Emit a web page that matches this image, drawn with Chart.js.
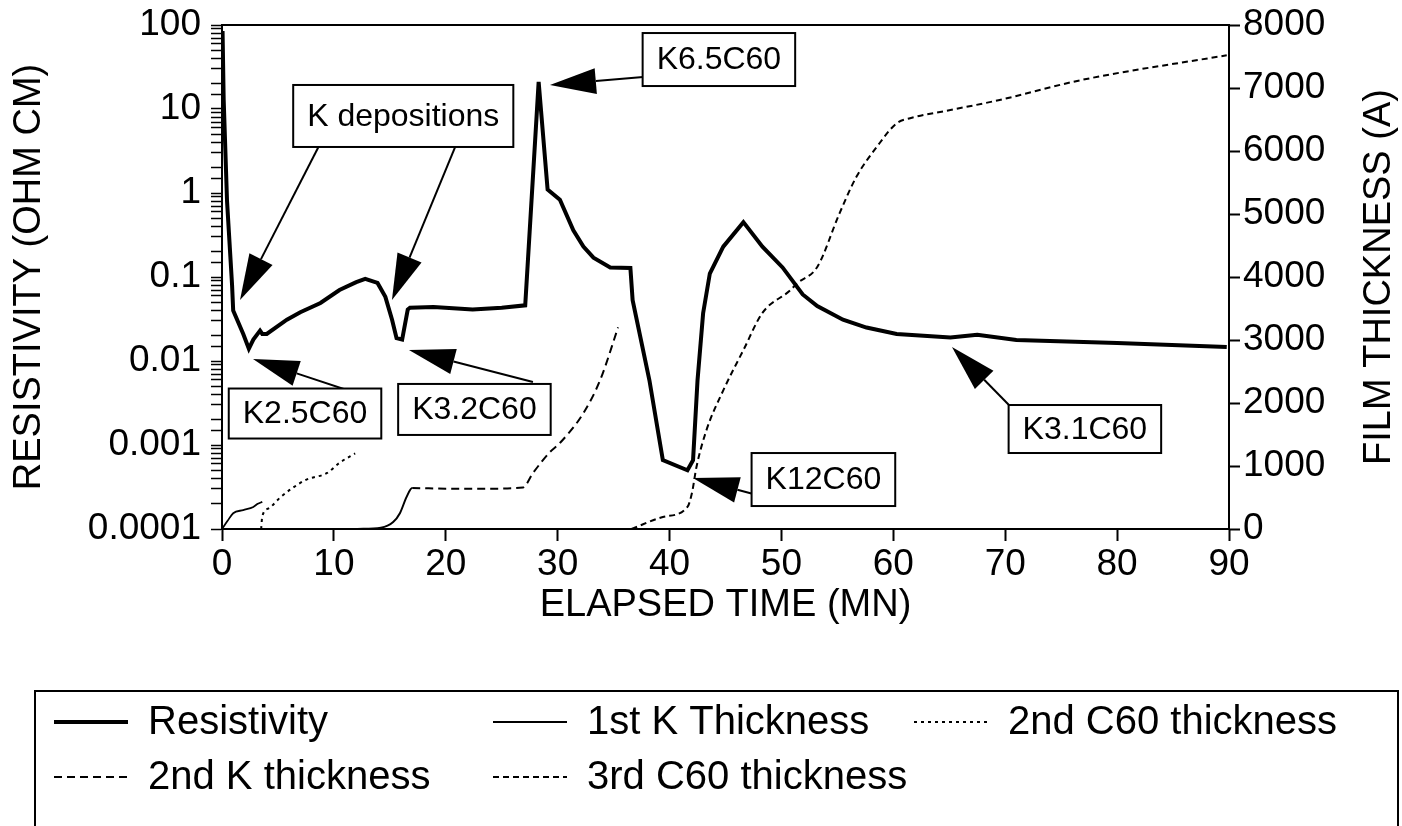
<!DOCTYPE html>
<html>
<head>
<meta charset="utf-8">
<script src="https://cdn.jsdelivr.net/npm/chart.js@4.4.0/dist/chart.umd.min.js"></script>
<style>
  html, body { margin: 0; padding: 0; background: #fff; }
  #wrap { width: 1402px; height: 826px; }
</style>
</head>
<body>
<div id="wrap"><canvas id="filmChart" width="1402" height="826"></canvas></div>
<script>
// resistivity (ohm cm), left log axis
const resTime = [0.05, 0.15, 0.45, 0.9, 1.0, 1.9, 2.4, 2.8, 3.4, 3.6, 4.0, 5.8, 7.0, 8.8, 10.5, 12.0, 12.8, 13.9, 14.6, 15.2, 15.6, 16.1, 16.6, 16.8, 18.9, 22.4, 25.0, 27.1,
  28.3, 29.1, 30.2, 31.4, 32.3, 33.2, 34.7, 36.5, 36.7, 38.2, 39.4, 41.6, 42.1, 42.5, 43.0, 43.6, 44.8, 46.6, 48.3, 50.1, 51.9, 53.2, 55.5, 57.6, 60.3, 65.1, 67.5, 71.0, 80.0, 89.8];
const resValue = [85, 13, 0.8, 0.08, 0.04, 0.021, 0.014, 0.018, 0.023, 0.021, 0.021, 0.031, 0.038, 0.049, 0.07, 0.087, 0.095, 0.085, 0.058, 0.031, 0.0187, 0.018, 0.041, 0.043, 0.044, 0.041, 0.043, 0.046,
  21, 1.1, 0.83, 0.36, 0.23, 0.17, 0.13, 0.128, 0.053, 0.0059, 0.00066, 0.0005, 0.00066, 0.0059, 0.037, 0.11, 0.23, 0.45, 0.23, 0.13, 0.062, 0.045, 0.031, 0.025, 0.021, 0.019, 0.0205, 0.0178, 0.0164, 0.0147];

// film thickness (A), right axis
const k1Time = [0, 0.5, 1.0, 1.9, 2.8, 3.2, 3.6];
const k1Thick = [0, 130, 250, 300, 350, 400, 430];

const c2Time = [3.5, 3.6, 4.2, 5.2, 6.3, 7.5, 9.4, 10.5, 11.9];
const c2Thick = [0, 200, 330, 500, 650, 780, 890, 1050, 1200];

const k2Time = [12.1, 14.2, 15.3, 15.9, 16.5, 17.0, 20, 24, 26.9, 27.8, 29.3, 30.2, 32.3, 33.8, 35.4];
const k2Thick = [0, 20, 110, 250, 510, 650, 640, 640, 660, 890, 1220, 1365, 1840, 2365, 3200];

const c3Time = [36.6, 39.4, 41.6, 42.0, 42.4, 43.3, 44.8, 46.6, 48.3, 50.8, 51.4, 53.2, 55.2, 56.7, 58.5, 60.3, 61.5, 65.1, 69.5, 76.9, 89.8];
const c3Thick = [0, 190, 350, 570, 980, 1570, 2200, 2840, 3430, 3790, 3900, 4160, 5015, 5590, 6060, 6440, 6520, 6650, 6810, 7130, 7520];

const xTicks = [0, 10, 20, 30, 40, 50, 60, 70, 80, 90];

const pts = (xs, ys) => xs.map((v, i) => ({x: v, y: ys[i]}));

const FONT = '"Liberation Sans", Arial, Helvetica, sans-serif';
Chart.defaults.font.family = FONT;
Chart.defaults.color = '#000';

// labelled boxes with arrows, in data units (minutes, ohm cm)
const notes = [
  {text: 'K depositions', x: 16.2, y: 8.26, h: 62, arrows: [[8.94, 4.28, 1.61, 0.0532], [21.1, 4.28, 15.19, 0.0532]]},
  {text: 'K2.5C60', x: 7.42, y: 0.00237, h: 50, arrows: [[12.78, 0.00383, 2.77, 0.01057]]},
  {text: 'K3.2C60', x: 22.56, y: 0.00265, h: 51, arrows: [[27.79, 0.00562, 16.71, 0.01352]]},
  {text: 'K6.5C60', x: 44.41, y: 38.8, h: 53, arrows: [[38.7, 24.7, 29.31, 19.3]]},
  {text: 'K12C60', x: 53.75, y: 0.000388, h: 53, arrows: [[49.15, 0.000228, 42.09, 0.000404]]},
  {text: 'K3.1C60', x: 77.12, y: 0.00155, h: 48, arrows: [[70.42, 0.00291, 65.24, 0.0147]]}
];

function drawArrow(ctx, x1, y1, x2, y2) {
  const ang = Math.atan2(y2 - y1, x2 - x1);
  const len = 46, half = 13;
  const bx = x2 - Math.cos(ang) * len, by = y2 - Math.sin(ang) * len;
  ctx.beginPath();
  ctx.moveTo(x1, y1);
  ctx.lineTo(bx, by);
  ctx.lineWidth = 2;
  ctx.stroke();
  ctx.beginPath();
  ctx.moveTo(x2, y2);
  ctx.lineTo(bx - Math.sin(ang) * half, by + Math.cos(ang) * half);
  ctx.lineTo(bx + Math.sin(ang) * half, by - Math.cos(ang) * half);
  ctx.closePath();
  ctx.fill();
}

const notesPlugin = {
  id: 'notes',
  afterDatasetsDraw(chart) {
    const {ctx, chartArea, scales: {x, y}} = chart;
    ctx.save();
    // frame round the plot
    ctx.strokeStyle = '#000';
    ctx.lineWidth = 2;
    ctx.strokeRect(chartArea.left, chartArea.top, chartArea.right - chartArea.left, chartArea.bottom - chartArea.top);

    ctx.fillStyle = '#000';
    ctx.font = '32px ' + FONT;
    notes.forEach(n => {
      n.arrows.forEach(a => drawArrow(ctx, x.getPixelForValue(a[0]), y.getPixelForValue(a[1]),
        x.getPixelForValue(a[2]), y.getPixelForValue(a[3])));
      const cx = x.getPixelForValue(n.x), cy = y.getPixelForValue(n.y);
      const w = ctx.measureText(n.text).width + 28;
      ctx.fillStyle = '#fff';
      ctx.fillRect(cx - w / 2, cy - n.h / 2, w, n.h);
      ctx.lineWidth = 2;
      ctx.strokeRect(cx - w / 2, cy - n.h / 2, w, n.h);
      ctx.fillStyle = '#000';
      ctx.textAlign = 'center';
      ctx.textBaseline = 'middle';
      ctx.fillText(n.text, cx, cy + 1);
    });
    ctx.restore();
  },
  afterDraw(chart) {
    const {ctx, chartArea} = chart;
    ctx.save();
    // right axis title, reading upwards
    ctx.font = '38px ' + FONT;
    ctx.fillStyle = '#000';
    ctx.textAlign = 'center';
    ctx.textBaseline = 'middle';
    ctx.translate(1380, (chartArea.top + chartArea.bottom) / 2);
    ctx.rotate(-Math.PI / 2);
    ctx.fillText('FILM THICKNESS (A)', 0, 0);
    ctx.restore();

    // legend box
    ctx.save();
    ctx.strokeStyle = '#000';
    ctx.lineWidth = 2;
    ctx.strokeRect(35, 691, 1363, 160);
    const cols = [148, 587, 1008];
    const rows = [722, 777];
    ctx.font = '40px ' + FONT;
    ctx.textBaseline = 'middle';
    ctx.textAlign = 'left';
    chart.data.datasets.forEach((ds, i) => {
      const tx = cols[i % 3], ly = rows[Math.floor(i / 3)];
      ctx.beginPath();
      ctx.setLineDash(ds.borderDash || []);
      ctx.lineWidth = ds.borderWidth;
      ctx.moveTo(tx - 94, ly);
      ctx.lineTo(tx - 20, ly);
      ctx.stroke();
      ctx.setLineDash([]);
      ctx.fillText(ds.label, tx, ly + 1);
    });
    ctx.restore();
  }
};

const ctx = document.getElementById('filmChart').getContext('2d');

const filmChart = new Chart(ctx, {
  type: 'line',
  data: {
    datasets: [
      {
        label: 'Resistivity',
        data: pts(resTime, resValue),
        yAxisID: 'y',
        borderColor: '#000',
        borderWidth: 4,
        pointRadius: 0
      },
      {
        label: '1st K Thickness',
        data: pts(k1Time, k1Thick),
        yAxisID: 'y2',
        borderColor: '#000',
        borderWidth: 1.8,
        pointRadius: 0,
        cubicInterpolationMode: 'monotone'
      },
      {
        label: '2nd C60 thickness',
        data: pts(c2Time, c2Thick),
        yAxisID: 'y2',
        borderColor: '#000',
        borderWidth: 2,
        borderDash: [3, 4],
        pointRadius: 0,
        cubicInterpolationMode: 'monotone'
      },
      {
        label: '2nd K thickness',
        data: pts(k2Time, k2Thick),
        yAxisID: 'y2',
        borderColor: '#000',
        borderWidth: 2,
        borderDash: [8, 5],
        pointRadius: 0,
        cubicInterpolationMode: 'monotone',
        segment: {
          borderDash: c => c.p1.parsed.x <= 17 ? [] : [8, 5]
        }
      },
      {
        label: '3rd C60 thickness',
        data: pts(c3Time, c3Thick),
        yAxisID: 'y2',
        borderColor: '#000',
        borderWidth: 2,
        borderDash: [6, 4],
        pointRadius: 0,
        cubicInterpolationMode: 'monotone'
      }
    ]
  },
  options: {
    responsive: false,
    animation: false,
    devicePixelRatio: 1,
    layout: {
      padding: {left: 0, right: 0, top: 25, bottom: 198}
    },
    plugins: {
      legend: {display: false},
      tooltip: {enabled: false}
    },
    scales: {
      x: {
        type: 'linear',
        min: 0,
        max: 90,
        afterBuildTicks: s => { s.ticks = xTicks.map(v => ({value: v})); },
        afterFit: s => { s.height = 99; },
        grid: {drawOnChartArea: false, tickLength: 12, tickWidth: 2, color: '#000'},
        border: {color: '#000', width: 2},
        ticks: {font: {size: 37}, padding: 2, maxRotation: 0, autoSkip: false},
        title: {display: true, text: 'ELAPSED TIME (MN)', font: {size: 38}, padding: {top: 0, bottom: 0}}
      },
      y: {
        type: 'logarithmic',
        position: 'left',
        min: 0.0001,
        max: 100,
        afterFit: s => { s.width = 222; s.paddingTop = 0; s.paddingBottom = 0; },
        grid: {drawOnChartArea: false, tickLength: 11, tickWidth: 1.5, color: '#000'},
        border: {color: '#000', width: 2},
        ticks: {
          font: {size: 37},
          padding: 10,
          autoSkip: false,
          callback: v => {
            const l = Math.log10(v);
            if (Math.abs(l - Math.round(l)) > 1e-6) return '';
            return v >= 1 ? String(Math.round(v)) : v.toFixed(-Math.round(l));
          }
        },
        title: {display: true, text: 'RESISTIVITY (OHM CM)', font: {size: 38}, padding: {top: 7, bottom: 0}}
      },
      y2: {
        type: 'linear',
        position: 'right',
        min: 0,
        max: 8000,
        afterFit: s => { s.width = 173; s.paddingTop = 0; s.paddingBottom = 0; },
        grid: {drawOnChartArea: false, tickLength: 11, tickWidth: 2, color: '#000'},
        border: {color: '#000', width: 2},
        ticks: {font: {size: 37}, padding: 3, stepSize: 1000, callback: v => String(v)}
      }
    }
  },
  plugins: [notesPlugin]
});
</script>
</body>
</html>
